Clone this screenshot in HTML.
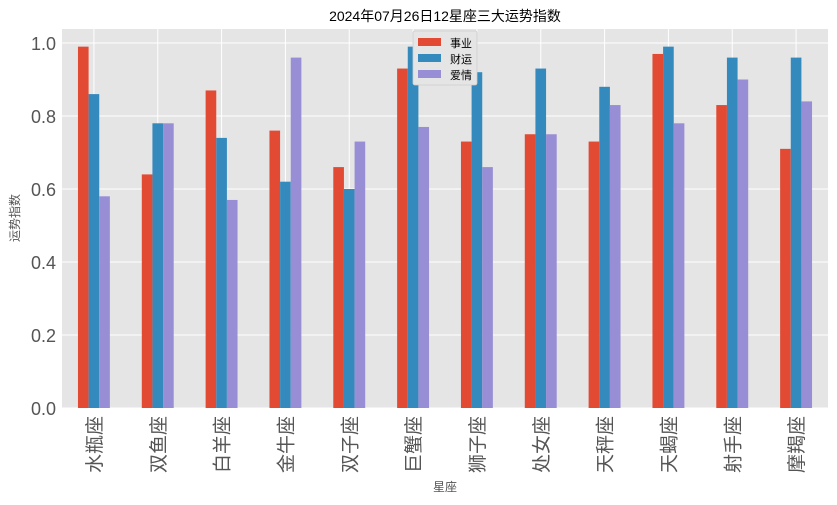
<!DOCTYPE html>
<html><head><meta charset="utf-8"><style>
body{margin:0;background:#fff;}
svg text{font-family:"Liberation Sans","Noto Sans CJK SC",sans-serif;}
</style></head><body>
<svg id="chart" width="837" height="500" xmlns="http://www.w3.org/2000/svg">
<rect width="837" height="500" fill="#fff"/>
<text x="445" y="21" font-size="14" text-anchor="middle" fill="#000">2024年07月26日12星座三大运势指数</text>
<g id="plot"></g>
<text transform="translate(19,218) rotate(-90)" font-size="12" text-anchor="middle" fill="#555">运势指数</text>
<text x="445" y="491" font-size="12" text-anchor="middle" fill="#555">星座</text>
</svg>
<script>
const categories=["水瓶座","双鱼座","白羊座","金牛座","双子座","巨蟹座","狮子座","处女座","天秤座","天蝎座","射手座","摩羯座"];
const career=[0.99,0.64,0.87,0.76,0.66,0.93,0.73,0.75,0.73,0.97,0.83,0.71];
const wealth=[0.86,0.78,0.74,0.62,0.60,0.99,0.92,0.93,0.88,0.99,0.96,0.96];
const love=[0.58,0.78,0.57,0.96,0.73,0.77,0.66,0.75,0.83,0.78,0.90,0.84];
const seriesNames=["事业","财运","爱情"];
const yTicks=[0.0,0.2,0.4,0.6,0.8,1.0];
const NS="http://www.w3.org/2000/svg";
const L=62,R=828,T=29,B=408;
const y=v=>B-(v/1.0)*(B-43)+0;
const step=(R-L)/categories.length;
const xc=i=>L+step*(i+0.5);
const bw=step*0.5/3;
const colors=["#e24a33","#348abd","#988ed5"];
const series=[career,wealth,love];
const g=document.getElementById('plot');
function mk(t,a){const e=document.createElementNS(NS,t);for(const k in a)e.setAttribute(k,a[k]);g.appendChild(e);return e;}
const bg=mk('rect',{x:L,y:T,width:R-L,height:B-T,fill:'#e5e5e5'});


yTicks.forEach(v=>{
 const ln=mk('line',{x1:L,x2:R,y1:y(v),y2:y(v),stroke:'#fff','stroke-width':1});
 
 
 const t=mk('text',{x:L-6,y:y(v)+7,'font-size':18,'text-anchor':'end',fill:'#555'});
 t.textContent=v.toFixed(1);
 
 
});
categories.forEach((c,i)=>{
 const ln=mk('line',{x1:xc(i),x2:xc(i),y1:T,y2:B,stroke:'#fff','stroke-width':1});
 
 
});
series.forEach((s,si)=>{
 s.forEach((v,i)=>{
  const x=xc(i)-1.5*bw+si*bw;
  const r=mk('rect',{x:x,y:y(v),width:bw,height:B-y(v),fill:colors[si]});
  
  
 });
});
categories.forEach((c,i)=>{
 const t=mk('text',{transform:`translate(${xc(i)+7},${B+8}) rotate(-90)`,'font-size':19,'text-anchor':'end',fill:'#555'});
 t.textContent=c;
 
 
});
const lg=mk('rect',{x:413,y:31,width:64,height:54,fill:'#e5e5e5',stroke:'#ccc','stroke-width':0.8,rx:2});


seriesNames.forEach((n,i)=>{
 const p=mk('rect',{x:418,y:38+i*16,width:23,height:8,fill:colors[i]});
 
 
 const t=mk('text',{x:450,y:47+i*16,'font-size':11,fill:'#000'});
 t.textContent=n;
 
 
});
</script>
</body></html>
